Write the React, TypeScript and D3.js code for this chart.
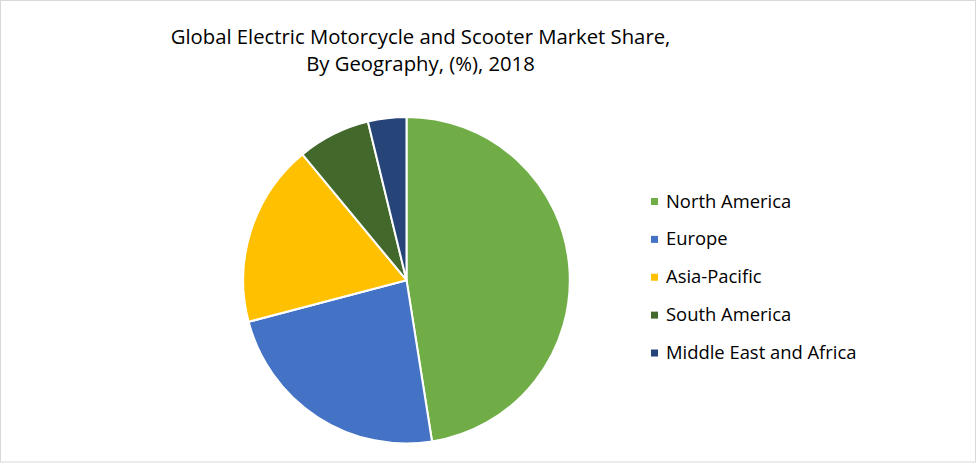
import React from "react";
import * as d3 from "d3";

const categories = ["North America", "Europe", "Asia-Pacific", "South America", "Middle East and Africa"];
const shares = [47.5, 23.4, 18.1, 7.2, 3.8];
const colors = ["#70AD47", "#4472C4", "#FFC000", "#43682B", "#264478"];
const titleLines = ["Global Electric Motorcycle and Scooter Market Share,", "By Geography, (%), 2018"];

const W = 977;
const H = 464;
const cx = 406.5;
const cy = 280.2;
const R = 163.3;

export default function App() {
  const data = categories.map((c, i) => ({ name: c, value: shares[i], color: colors[i] }));
  const pie = d3.pie<any>().value((d: any) => d.value).sort(null);
  const arcs = pie(data);
  const arc = d3.arc<any>().innerRadius(0).outerRadius(R);
  const legendY = d3.scalePoint<string>().domain(categories).range([201.5, 353]);
  const font = "'Open Sans', sans-serif";
  return (
    <>
      <style>{`body{margin:0}`}</style>
      <svg width={W} height={H} style={{ display: "block" }}>
        <rect x={0} y={0} width={W} height={H} fill="#fff" />
        <rect x={0.5} y={0.5} width={975} height={461.5} fill="none" stroke="#d9d9d9" strokeWidth={1} />
        {titleLines.map((t, i) => (
          <text key={i} x={420.5} y={44 + i * 27} textAnchor="middle" fontFamily={font} fontSize={20.3} fill="#000">
            {t}
          </text>
        ))}
        <g transform={`translate(${cx},${cy})`}>
          {arcs.map((a, i) => (
            <path key={i} d={arc(a) as string} fill={a.data.color} stroke="#fff" strokeWidth={2} strokeLinejoin="round" />
          ))}
        </g>
        {data.map((d) => (
          <g key={d.name} transform={`translate(651,${legendY(d.name)})`}>
            <rect x={0} y={-3.5} width={7} height={7} fill={d.color} />
            <text x={15} y={6} fontFamily={font} fontSize={18.4} fill="#000">
              {d.name}
            </text>
          </g>
        ))}
      </svg>
    </>
  );
}
